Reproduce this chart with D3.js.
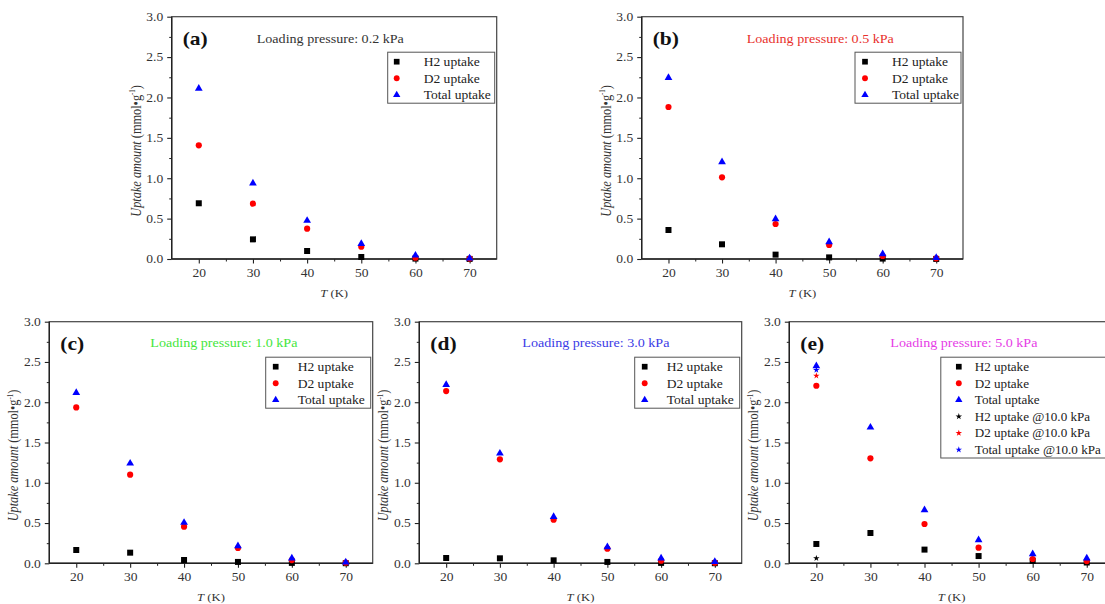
<!DOCTYPE html>
<html>
<head>
<meta charset="utf-8">
<script src="https://cdn.jsdelivr.net/npm/d3@7"></script>
<style>
  html, body { margin: 0; padding: 0; background: #fff; }
  svg { display: block; }
  text { font-family: "Liberation Serif", "Times New Roman", serif; }
</style>
</head>
<body>
<svg id="chart" width="1105" height="604" font-family="Liberation Serif"></svg>
<script>
// Temperatures (K) at which uptake was measured
const temps = [20, 30, 40, 50, 60, 70];
const xTickValues = [20, 30, 40, 50, 60, 70];
const yTickValues = [0, 0.5, 1.0, 1.5, 2.0, 2.5, 3.0];

// Uptake amounts (mmol/g), one array per series and loading pressure
const h2_02  = [0.69, 0.243, 0.099, 0.025, 0.005, 0.001];
const d2_02  = [1.407, 0.685, 0.376, 0.153, 0.017, 0.005];
const tot_02 = [2.11, 0.937, 0.475, 0.19, 0.045, 0.01];

const h2_05  = [0.359, 0.182, 0.054, 0.02, 0.005, 0.001];
const d2_05  = [1.882, 1.011, 0.433, 0.173, 0.037, 0.008];
const tot_05 = [2.245, 1.20, 0.495, 0.21, 0.062, 0.015];

const h2_10  = [0.165, 0.132, 0.041, 0.017, 0.005, 0.001];
const d2_10  = [1.936, 1.10, 0.455, 0.19, 0.04, 0.008];
const tot_10 = [2.118, 1.241, 0.505, 0.215, 0.062, 0.012];

const h2_30  = [0.066, 0.062, 0.037, 0.017, 0.005, 0.001];
const d2_30  = [2.139, 1.291, 0.542, 0.182, 0.033, 0.008];
const tot_30 = [2.218, 1.365, 0.579, 0.203, 0.062, 0.02];

const h2_50  = [0.24, 0.376, 0.17, 0.09, 0.03, 0.01];
const d2_50  = [2.205, 1.303, 0.488, 0.194, 0.053, 0.028];
const tot_50 = [2.45, 1.688, 0.662, 0.289, 0.115, 0.062];

// Single extra measurement at 20 K and 10.0 kPa
const temps_100 = [20];
const h2_100  = [0.062];
const d2_100  = [2.329];
const tot_100 = [2.40];

const panelLabels = ["(a)", "(b)", "(c)", "(d)", "(e)"];
const pressureLabels = ["Loading pressure: 0.2 kPa", "Loading pressure: 0.5 kPa",
  "Loading pressure: 1.0 kPa", "Loading pressure: 3.0 kPa", "Loading pressure: 5.0 kPa"];
const seriesNames = ["H2 uptake", "D2 uptake", "Total uptake"];
const seriesNames100 = ["H2 uptake @10.0 kPa", "D2 uptake @10.0 kPa", "Total uptake @10.0 kPa"];

// Styling / layout
const SX = 1.12;   // horizontal text stretch
const colors = ["#000000", "#ff0000", "#0000ff"];
const symbols = [d3.symbolSquare, d3.symbolCircle, d3.symbolTriangle];
const symbolSizes = [36, 30, 26];
const axisColor = "#222";
const labelColor = "#333";

const panels = [
  { frame: [171.7, 16.7, 325.0, 242.3], series: [h2_02, d2_02, tot_02], titleColor: "#333333", titleX: 85,  titleY: 26.5, legendW: 107, markerDx: 9,  textDx: 36, legendFont: 12.1 },
  { frame: [641.7, 16.7, 321.3, 242.3], series: [h2_05, d2_05, tot_05], titleColor: "#e8302c", titleX: 105, titleY: 26.5, legendW: 106, markerDx: 10, textDx: 37, legendFont: 12.1 },
  { frame: [49.3, 321.7, 323.4, 241.6], series: [h2_10, d2_10, tot_10], titleColor: "#44e63c", titleX: 101, titleY: 25,   legendW: 105, markerDx: 10, textDx: 32, legendFont: 12.1 },
  { frame: [419.3, 321.7, 322.4, 241.6], series: [h2_30, d2_30, tot_30], titleColor: "#3b3be6", titleX: 103, titleY: 25,  legendW: 105, markerDx: 10, textDx: 32, legendFont: 12.1 },
  { frame: [789.3, 321.7, 324.5, 241.6], series: [h2_50, d2_50, tot_50], titleColor: "#e63ce6", titleX: 101, titleY: 25,  legendW: 171, markerDx: 18, textDx: 34, legendFont: 11.7,
    extra: [h2_100, d2_100, tot_100] }
];

const svg = d3.select("#chart");

function stext(sel, x, y, str, size, attrs = {}) {
  const t = sel.append("text")
    .attr("transform", `translate(${x},${y}) scale(${SX},1)`)
    .attr("font-size", size)
    .text(str);
  for (const k in attrs) t.attr(k, attrs[k]);
  return t;
}

panels.forEach((p, i) => {
  const [left, top, w, h] = p.frame;
  const g = svg.append("g").attr("transform", `translate(${left},${top})`);

  const x = d3.scaleLinear().domain([15, 75]).range([0, w]);
  const y = d3.scaleLinear().domain([0, 3]).range([h, 0]);

  // minor ticks
  const xMinor = d3.range(25, 75, 10);
  const yMinor = d3.range(0.25, 3, 0.5);
  g.append("g").attr("transform", `translate(0,${h})`)
    .call(d3.axisBottom(x).tickValues(xMinor).tickSize(2.5).tickSizeOuter(0).tickFormat(""))
    .call(a => a.select(".domain").remove())
    .call(a => a.selectAll("line").attr("stroke", axisColor));
  g.append("g")
    .call(d3.axisLeft(y).tickValues(yMinor).tickSize(2.5).tickSizeOuter(0).tickFormat(""))
    .call(a => a.select(".domain").remove())
    .call(a => a.selectAll("line").attr("stroke", axisColor));

  // major ticks and labels
  const xa = g.append("g").attr("transform", `translate(0,${h})`)
    .call(d3.axisBottom(x).tickValues(xTickValues).tickSize(4.5).tickSizeOuter(0).tickPadding(4.5).tickFormat(d3.format("d")));
  xa.select(".domain").remove();
  xa.selectAll("line").attr("stroke", axisColor).attr("stroke-width", 1.1);
  xa.selectAll("text").attr("font-size", 12.1).attr("fill", labelColor)
    .attr("font-family", "Liberation Serif").attr("transform", `scale(${SX},1)`);

  const ya = g.append("g")
    .call(d3.axisLeft(y).tickValues(yTickValues).tickSize(4.5).tickSizeOuter(0).tickPadding(4).tickFormat(d3.format(".1f")));
  ya.select(".domain").remove();
  ya.selectAll("line").attr("stroke", axisColor).attr("stroke-width", 1.1);
  ya.selectAll("text").attr("font-size", 12.1).attr("fill", labelColor)
    .attr("font-family", "Liberation Serif")
    .attr("x", -8.5 / SX).attr("transform", `scale(${SX},1)`);

  // frame
  g.append("rect").attr("x", 0).attr("y", 0).attr("width", w).attr("height", h)
    .attr("fill", "none").attr("stroke", "#444").attr("stroke-width", 1.2);
  g.append("line").attr("x1", 0).attr("x2", w).attr("y1", h).attr("y2", h)
    .attr("stroke", axisColor).attr("stroke-width", 1.4);
  g.append("line").attr("x1", 0).attr("x2", 0).attr("y1", 0).attr("y2", h)
    .attr("stroke", axisColor).attr("stroke-width", 1.4);

  // data markers
  p.series.forEach((vals, s) => {
    g.append("g").selectAll("path").data(temps.map((t, k) => [t, vals[k]])).join("path")
      .attr("transform", d => `translate(${x(d[0])},${y(d[1])})`)
      .attr("d", d3.symbol().type(symbols[s]).size(symbolSizes[s]))
      .attr("fill", colors[s]);
  });
  if (p.extra) {
    p.extra.forEach((vals, s) => {
      g.append("g").selectAll("path").data(temps_100.map((t, k) => [t, vals[k]])).join("path")
        .attr("transform", d => `translate(${x(d[0])},${y(d[1])})`)
        .attr("d", d3.symbol().type(d3.symbolStar).size(13))
        .attr("fill", colors[s]);
    });
  }

  // panel label and loading pressure
  stext(g, 11, 28.5, panelLabels[i], 19.2, { "font-weight": "bold", fill: "#111" });
  stext(g, p.titleX, p.titleY, pressureLabels[i], 12.6, { fill: p.titleColor });

  // legend
  const names = p.extra ? seriesNames.concat(seriesNames100) : seriesNames;
  const rows = names.length;
  const lgH = rows * 16.6 + 1.2;
  const lg = g.append("g").attr("transform", `translate(${w - 2 - p.legendW},${35.5})`);
  lg.append("rect").attr("width", p.legendW).attr("height", lgH)
    .attr("fill", "#fff").attr("stroke", "#555").attr("stroke-width", 1);
  names.forEach((n, r) => {
    const cy = 9.5 + r * 16.6;
    const isStar = r >= 3;
    lg.append("path")
      .attr("transform", `translate(${p.markerDx},${cy})`)
      .attr("d", d3.symbol().type(isStar ? d3.symbolStar : symbols[r]).size(isStar ? 13 : symbolSizes[r] * 0.9))
      .attr("fill", colors[r % 3]);
    stext(lg, p.textDx, cy + 4.2, n, p.legendFont, { fill: "#222" });
  });

  // axis titles
  const xt = g.append("text")
    .attr("transform", `translate(${w / 2},${h + 38}) scale(${SX},1)`)
    .attr("text-anchor", "middle").attr("font-size", 11.3).attr("fill", labelColor);
  xt.append("tspan").attr("font-style", "italic").text("T");
  xt.append("tspan").text(" (K)");

  const yt = g.append("text")
    .attr("transform", `translate(-31,${h / 2 + 13}) rotate(-90) scale(1,${SX})`)
    .attr("text-anchor", "middle").attr("font-size", 12.3).attr("fill", labelColor);
  yt.append("tspan").attr("font-style", "italic").text("Uptake amount");
  yt.append("tspan").text(" (mmol\u2022g");
  yt.append("tspan").attr("font-size", 7).attr("dy", -5).text("-1");
  yt.append("tspan").attr("dy", 5).text(")");
});
</script>
</body>
</html>
